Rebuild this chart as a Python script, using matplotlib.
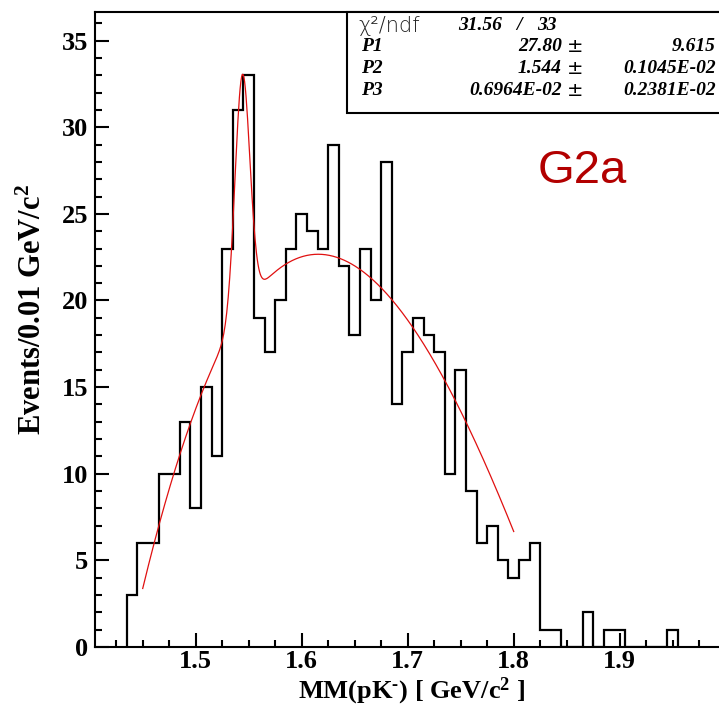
import numpy as np
import matplotlib
matplotlib.use("Agg")
import matplotlib.pyplot as plt
from matplotlib.patches import Rectangle
from matplotlib.ticker import MultipleLocator, FuncFormatter

# ---- histogram: missing mass MM(pK-), 0.01 GeV/c^2 bins starting at 1.435 ----
first_edge = 1.435
bin_width = 0.01
counts = [3, 6, 6, 10, 10, 13, 8, 15, 11, 23,
          31, 33, 19, 17, 20, 23, 25, 24, 23, 29,
          22, 18, 23, 20, 28, 14, 17, 19, 18, 17,
          10, 16, 9, 6, 7, 5, 4, 5, 6, 1,
          1, 0, 0, 2, 0, 1, 1, 0, 0, 0,
          0, 1]

# ---- fit: Gaussian (P2 = mean, P3 = sigma) on a smooth background ----
fit_p1, fit_p1_err = 27.80, 9.615
fit_p2, fit_p2_err = 1.544, 0.1045e-02
fit_p3, fit_p3_err = 0.6964e-02, 0.2381e-02
chi2, ndf = 31.56, 33
fit_range = (1.45, 1.80)
fit_peak = 33.05
bg_mass = [1.450, 1.465, 1.479, 1.495, 1.507, 1.518, 1.564, 1.576,
           1.589, 1.614, 1.633, 1.664, 1.683, 1.718, 1.734, 1.754, 1.7745, 1.800]
bg_level = [3.45, 6.75, 10.0, 13.0, 15.0, 16.4, 20.5, 21.9,
            22.4, 22.76, 22.5, 21.45, 20.0, 17.13, 15.6, 13.1, 10.4, 6.65]

plt.rcParams["font.family"] = ["Liberation Serif", "DejaVu Serif"]
plt.rcParams["font.weight"] = "bold"
plt.rcParams["mathtext.fontset"] = "custom"
plt.rcParams["mathtext.rm"] = "Liberation Serif:bold"
plt.rcParams["mathtext.it"] = "Liberation Serif:bold:italic"
plt.rcParams["mathtext.bf"] = "Liberation Serif:bold"

W, H = 719, 708
fig = plt.figure(figsize=(W / 100, H / 100), dpi=100)
fig.patch.set_facecolor("white")

x_lo, x_hi = 1.4047, 2.02
px_left, px_bottom, px_top = 94.7, 647.0, 12.0
px_per_unit = 1060.0
px_right = px_left + (x_hi - x_lo) * px_per_unit
ax = fig.add_axes([px_left / W, 1 - px_bottom / H,
                   (px_right - px_left) / W, (px_bottom - px_top) / H])
ax.set_xlim(x_lo, x_hi)
ax.set_ylim(0, 36.65)

edges = first_edge + bin_width * np.arange(len(counts) + 1)
ax.stairs(counts, edges, baseline=0, color="black", linewidth=1.6)

# fit curve
bg_coef = np.polyfit(bg_mass, bg_level, 5)
xf = np.linspace(fit_range[0], fit_range[1], 500)
amp = fit_peak - np.polyval(bg_coef, fit_p2)
yf = amp * np.exp(-0.5 * ((xf - fit_p2) / fit_p3) ** 2) + np.polyval(bg_coef, xf)
ax.plot(xf, yf, color="#e01010", linewidth=0.9)

# axes styling
for side in ("left", "bottom", "top", "right"):
    ax.spines[side].set_linewidth(1.5)
ax.xaxis.set_major_locator(MultipleLocator(0.1))
ax.xaxis.set_minor_locator(MultipleLocator(0.025))
ax.yaxis.set_major_locator(MultipleLocator(5))
ax.yaxis.set_minor_locator(MultipleLocator(1))
ax.xaxis.set_major_formatter(FuncFormatter(lambda v, p: f"{v:g}"))
ax.yaxis.set_major_formatter(FuncFormatter(lambda v, p: f"{v:.0f}"))
ax.tick_params(which="major", direction="in", length=10, width=1.5,
               top=False, right=False, labelsize=19)
ax.tick_params(which="minor", direction="in", length=5, width=1.5,
               top=False, right=False)
ax.tick_params(axis="x", pad=2)
ax.tick_params(axis="y", pad=4.5)

# axis titles
fig.text(412 / W, 1 - 691 / H, r"MM(pK$^{\text{-}}$) [ GeV/c$^{2}$ ]",
         ha="center", va="center", fontsize=19, fontweight="bold")
fig.text(33 / W, 1 - 310 / H, r"Events/0.01 GeV/c$^{2}$",
         ha="center", va="center", rotation=90, fontsize=22, fontweight="bold")

# sample label
fig.text(582 / W, 1 - 183 / H, "G2a", ha="center", va="baseline",
         fontsize=34, color="#b20000", family="Liberation Sans",
         fontweight="normal")

# fit statistics box
box = Rectangle((347.3 / W, 1 - 113.3 / H), (W + 20 - 347.3) / W, (113.3 - 12) / H,
                transform=fig.transFigure, facecolor="white", edgecolor="black",
                linewidth=1.5, zorder=10, clip_on=False)
fig.add_artist(box)

stat_kw = dict(fontsize=14, fontstyle="italic", fontweight="bold",
               family="Liberation Serif", va="center", zorder=11)
pm_kw = dict(fontsize=14, fontweight="normal", family="DejaVu Sans",
             va="center", zorder=11)


def fx(px):
    return px / W


def fy(py):
    return 1 - py / H


fig.text(fx(358), fy(26), "χ²/ndf", fontsize=15, fontweight="light",
         family="DejaVu Sans", color="#202020", va="center", zorder=11)
fig.text(fx(458), fy(26), f"{chi2:.2f}", ha="left", **stat_kw)
fig.text(fx(519), fy(26), "/", ha="center", **stat_kw)
fig.text(fx(537), fy(26), f"{ndf}", ha="left", **stat_kw)

rows = [("P1", "27.80", "9.615", 46.7),
        ("P2", "1.544", "0.1045E-02", 68.3),
        ("P3", "0.6964E-02", "0.2381E-02", 90.5)]
for name, val, err, py in rows:
    fig.text(fx(361), fy(py), name, ha="left", **stat_kw)
    fig.text(fx(561.7), fy(py), val, ha="right", **stat_kw)
    fig.text(fx(567), fy(py), "±", ha="left", **pm_kw)
    fig.text(fx(716), fy(py), err, ha="right", **stat_kw)

fig.savefig("out.png", dpi=100, facecolor="white")
